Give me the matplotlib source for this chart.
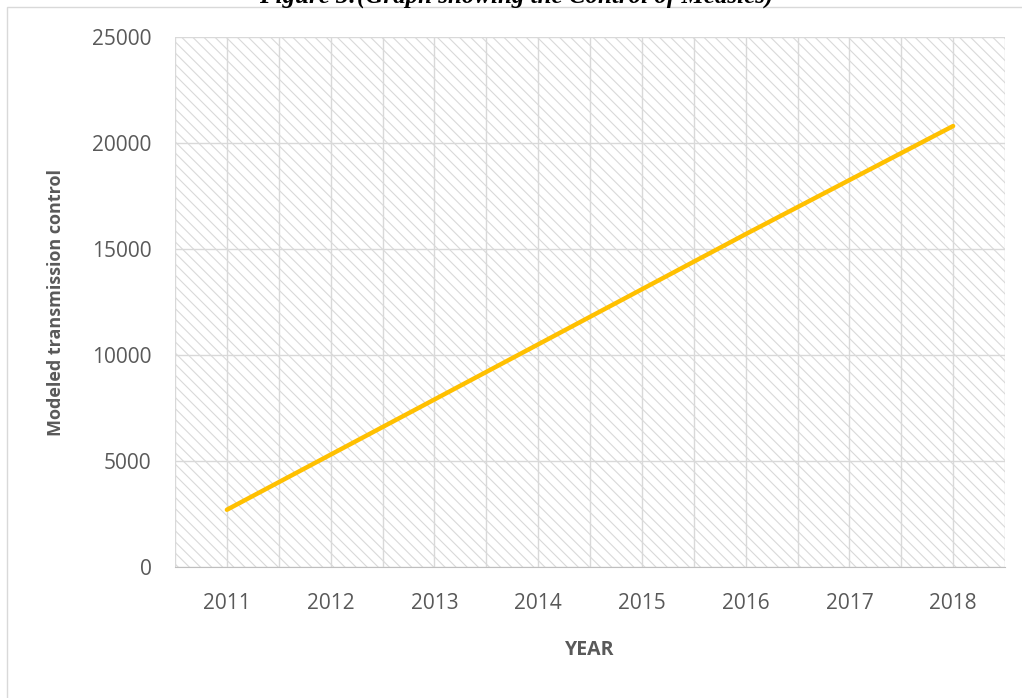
import matplotlib.pyplot as plt
from matplotlib.patches import Rectangle

years = ['2011', '2012', '2013', '2014', '2015', '2016', '2017', '2018']
control = [2700, 5300, 7900, 10500, 13100, 15700, 18250, 20800]
yticks = [0, 5000, 10000, 15000, 20000, 25000]

plt.rcParams['font.family'] = ['Open Sans', 'DejaVu Sans']
grey = '#595959'
gridc = '#d9d9d9'

fig = plt.figure(figsize=(10.22, 6.98), dpi=100)
# outer chart border
fig.patches.append(Rectangle((7 / 1022, -0.1), 1.1, (698 - 7) / 698 + 0.1,
                             transform=fig.transFigure, fill=False,
                             edgecolor=gridc, linewidth=1))
fig.text(516 / 1022, 1 - 3 / 698, 'Figure 3:(Graph showing the Control of Measles)',
         ha='center', va='baseline', fontsize=18, fontweight='bold',
         fontstyle='italic', family='Liberation Serif')

ax = fig.add_axes([175 / 1022, (698 - 567) / 698, 830 / 1022, 530 / 698])
x = range(len(years))

plt.rcParams['hatch.linewidth'] = 0.8
plt.rcParams['hatch.color'] = gridc
ax.add_patch(Rectangle((0, 0), 1, 1, transform=ax.transAxes, facecolor='white',
                       edgecolor=gridc, hatch='\\\\\\', linewidth=0, zorder=0))

ax.set_xlim(-0.5, len(years) - 0.5)
ax.set_ylim(0, 25000)
ax.set_xticks(x)
ax.set_xticklabels(years)
ax.set_yticks(yticks)
ax.set_xticks([i * 0.5 - 0.5 for i in range(2 * len(years) + 1)], minor=True)
ax.grid(axis='y', which='major', color=gridc, linewidth=1, zorder=1)
ax.grid(axis='x', which='both', color=gridc, linewidth=1, zorder=1)
ax.set_axisbelow(True)

ax.plot(x, control, color='#FFC000', linewidth=3.2, solid_capstyle='round', zorder=3)

for s in ['top', 'right', 'left']:
    ax.spines[s].set_visible(False)
ax.spines['bottom'].set_color('#bfbfbf')
ax.tick_params(which='both', length=0, colors=grey, labelsize=15)
ax.tick_params(axis='x', pad=19)
ax.tick_params(axis='y', pad=17)

ax.set_xlabel('YEAR', fontsize=14, fontweight='bold', color=grey)
ax.set_ylabel('Modeled transmission control', fontsize=13, fontweight='bold', color=grey)
ax.xaxis.set_label_coords(0.5, -0.138)
ax.yaxis.set_label_coords(-0.132, 0.5)

fig.savefig('out.png', dpi=100)
